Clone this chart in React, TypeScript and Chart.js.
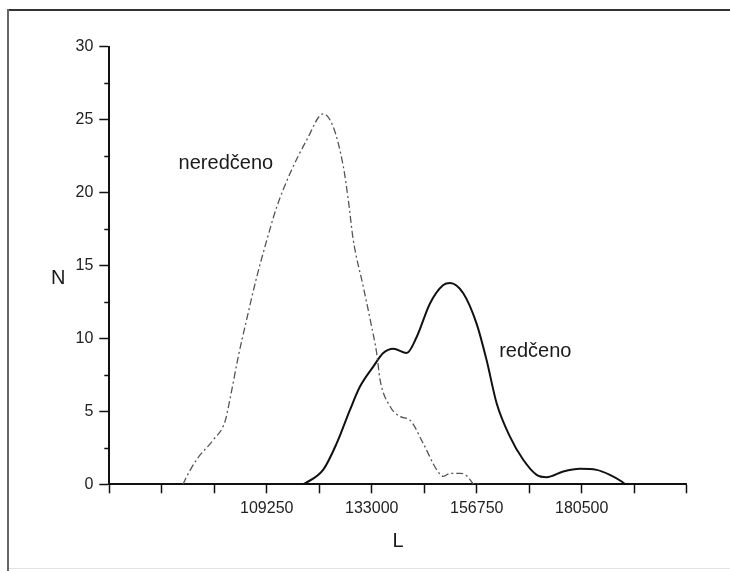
import React, { useEffect, useRef } from 'react';
import { Chart, registerables } from 'chart.js';

Chart.register(...registerables);

// ---- data ----
const neredX = [90300, 90750, 93400, 97150, 99800, 100900, 102800, 104700, 106970, 108850, 111490, 114500, 118280, 122030, 124290, 126560, 127690, 128820, 131080, 132980, 134110, 134860, 137120, 139380, 141650, 144650, 147680, 149200, 150800, 153200, 154800, 156000, 158000];
const neredY = [0, 0.3, 1.7, 3.05, 4.3, 5.8, 8.75, 11.3, 14.2, 16.3, 19.0, 21.3, 23.6, 25.4, 24.5, 21.8, 19.5, 16.75, 13.55, 10.8, 9.0, 7.2, 5.35, 4.65, 4.4, 2.8, 1.0, 0.55, 0.75, 0.75, 0.5, 0.05, 0];

const redX = [117500, 118000, 122030, 125060, 128070, 130340, 133340, 135600, 137870, 140900, 143160, 146170, 149180, 150690, 153700, 156730, 158990, 161250, 164260, 167270, 170300, 172560, 176320, 180100, 183870, 186880, 189530, 190300];
const redY = [0, 0.08, 1.0, 2.8, 5.1, 6.7, 8.07, 9.0, 9.3, 9.0, 10.1, 12.4, 13.66, 13.8, 13.1, 11.0, 8.5, 5.56, 3.27, 1.68, 0.65, 0.49, 0.88, 1.06, 0.99, 0.65, 0.19, 0];

const xTickValues = [73625, 85500, 97375, 109250, 121125, 133000, 144875, 156750, 168625, 180500, 192375, 204250];
const xTickLabels = [109250, 133000, 156750, 180500];
const yTickValues = [0, 5, 10, 15, 20, 25, 30];
const yMinorTicks = [2.5, 7.5, 12.5, 17.5, 22.5, 27.5];

const seriesNames = ['neredčeno', 'redčeno'];
const labelPosX = [100000, 170000];
const labelPosY = [22.0, 9.1];
const xTitle = 'L';
const yTitle = 'N';

const FONT = '"Liberation Sans", Arial, Helvetica, sans-serif';

const overlayPlugin = {
  id: 'overlay',
  afterDraw(chart: any) {
    const { ctx, chartArea } = chart;
    const x = chart.scales.x;
    const y = chart.scales.y;
    ctx.save();
    ctx.strokeStyle = '#111';
    ctx.lineWidth = 1.5;
    for (const v of yMinorTicks) {
      const py = Math.round(y.getPixelForValue(v)) + 0.5;
      ctx.beginPath();
      ctx.moveTo(chartArea.left - 5, py);
      ctx.lineTo(chartArea.left, py);
      ctx.stroke();
    }
    ctx.fillStyle = '#1a1a1a';
    ctx.textAlign = 'center';
    ctx.textBaseline = 'middle';
    ctx.font = `20px ${FONT}`;
    seriesNames.forEach((name, i) => {
      ctx.fillText(name, x.getPixelForValue(labelPosX[i]), y.getPixelForValue(labelPosY[i]));
    });
    ctx.font = `20px ${FONT}`;
    ctx.fillText(yTitle, chartArea.left - 51, y.getPixelForValue(14.1));
    ctx.restore();
  },
};

export default function App() {
  const ref = useRef<HTMLCanvasElement>(null);

  useEffect(() => {
    if (!ref.current) return;
    const chart = new Chart(ref.current, {
      type: 'line',
      data: {
        datasets: [
          {
            label: seriesNames[0],
            data: neredX.map((v, i) => ({ x: v, y: neredY[i] })),
            borderColor: '#555',
            borderWidth: 1.3,
            borderDash: [7, 3, 2, 3],
            pointRadius: 0,
            fill: false,
            cubicInterpolationMode: 'monotone',
          },
          {
            label: seriesNames[1],
            data: redX.map((v, i) => ({ x: v, y: redY[i] })),
            borderColor: '#111',
            borderWidth: 2,
            pointRadius: 0,
            fill: false,
            cubicInterpolationMode: 'monotone',
          },
        ],
      },
      options: {
        animation: false,
        responsive: false,
        maintainAspectRatio: false,
        layout: { padding: { left: 0, top: 46.7, right: 43.3, bottom: 0 } },
        plugins: { legend: { display: false }, tooltip: { enabled: false } },
        scales: {
          x: {
            type: 'linear',
            min: 73625,
            max: 204250,
            afterBuildTicks: (scale: any) => {
              scale.ticks = xTickValues.map((value) => ({ value }));
            },
            afterFit: (scale: any) => {
              scale.height = 86.7;
            },
            ticks: {
              autoSkip: false,
              maxRotation: 0,
              padding: 6,
              color: '#222',
              font: { family: FONT, size: 16 },
              callback: (v: any) => (xTickLabels.includes(Number(v)) ? String(v) : ''),
            },
            grid: {
              drawOnChartArea: false,
              drawTicks: true,
              tickLength: 9,
              tickColor: '#111',
              tickWidth: 1.5,
            },
            border: { display: true, color: '#111', width: 2 },
            title: {
              display: true,
              text: xTitle,
              color: '#1a1a1a',
              font: { family: FONT, size: 20 },
              padding: { top: 0, bottom: 18 },
            },
          },
          y: {
            type: 'linear',
            min: 0,
            max: 30,
            afterBuildTicks: (scale: any) => {
              scale.ticks = yTickValues.map((value) => ({ value }));
            },
            afterFit: (scale: any) => {
              scale.width = 109.3;
            },
            ticks: {
              padding: 6,
              color: '#222',
              font: { family: FONT, size: 16 },
            },
            grid: {
              drawOnChartArea: false,
              drawTicks: true,
              tickLength: 10,
              tickColor: '#111',
              tickWidth: 1.5,
            },
            border: { display: true, color: '#111', width: 2 },
          },
        },
      },
      plugins: [overlayPlugin],
    } as any);
    return () => chart.destroy();
  }, []);

  return (
    <div style={{ position: 'absolute', left: 0, top: 0, width: 730, height: 571, background: '#fff' }}>
      <div style={{ position: 'absolute', left: 7, top: 9, width: 723, height: 2, background: '#333' }} />
      <div style={{ position: 'absolute', left: 7, top: 9, width: 2, height: 562, background: '#666' }} />
      <div style={{ position: 'absolute', left: 9, top: 568, width: 721, height: 1, background: '#e2e2e2' }} />
      <canvas ref={ref} width={730} height={571} style={{ position: 'absolute', left: 0, top: 0, display: 'block' }} />
    </div>
  );
}
